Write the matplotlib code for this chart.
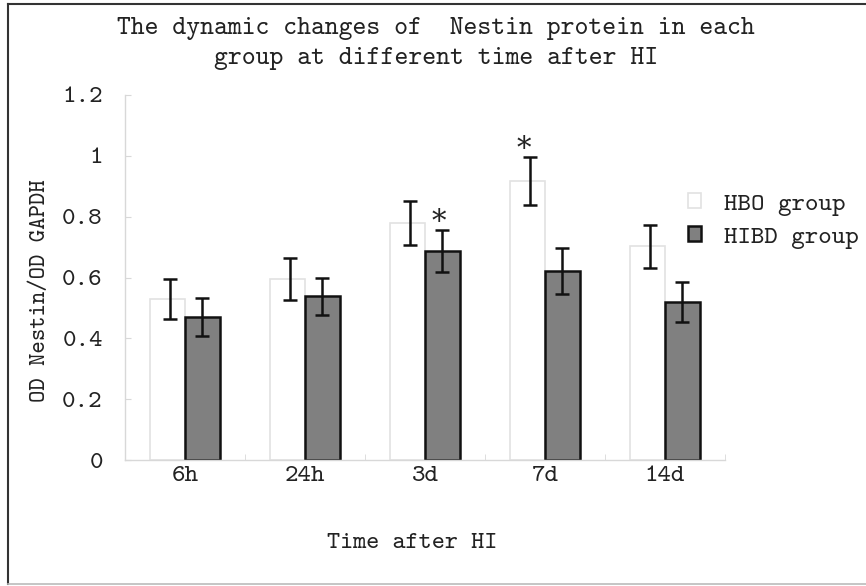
import numpy as np
import matplotlib.pyplot as plt
from matplotlib.lines import Line2D

times = ["6h", "24h", "3d", "7d", "14d"]
hbo = [0.53, 0.595, 0.78, 0.918, 0.702]
hbo_err = [0.065, 0.068, 0.073, 0.079, 0.072]
hibd = [0.47, 0.538, 0.688, 0.622, 0.519]
hibd_err = [0.062, 0.06, 0.069, 0.076, 0.066]
# significance stars: (series, category index)
stars = [("hibd", 2), ("hbo", 3)]

plt.rcParams['font.family'] = ['cmtt10', 'DejaVu Serif']
fs = 18.5

fig = plt.figure(figsize=(8.66, 5.86), dpi=100)
ax = fig.add_axes([125/866, 126/586, 600/866, 365/586])

x = np.arange(len(times))
w = 0.29
ax.bar(x - w/2, hbo, w, color="white", edgecolor="#e2e2e2", linewidth=1.2,
       label="HBO group", zorder=2)
ax.bar(x + w/2, hibd, w, color="#808080", edgecolor="#111111", linewidth=1.8,
       label="HIBD group", zorder=2)
ax.errorbar(x - w/2 + 0.02, hbo, yerr=hbo_err, fmt="none", ecolor="#111111",
            elinewidth=1.8, capsize=5, capthick=1.8, zorder=3)
ax.errorbar(x + w/2, hibd, yerr=hibd_err, fmt="none", ecolor="#111111",
            elinewidth=1.8, capsize=5, capthick=1.8, zorder=3)

for s, i in stars:
    if s == "hbo":
        xs, top = x[i] - w/2, hbo[i] + hbo_err[i]
    else:
        xs, top = x[i] + w/2, hibd[i] + hibd_err[i]
    ax.text(xs - 0.03, top + 0.024, "*", ha="center", va="center", fontsize=21,
            color="#222222", family="DejaVu Serif")

ax.set_xlim(-0.5, 4.5)
ax.set_ylim(0, 1.2)
ax.set_yticks([0, 0.2, 0.4, 0.6, 0.8, 1, 1.2])
ax.set_yticklabels(["0", "0.2", "0.4", "0.6", "0.8", "1", "1.2"])
ax.set_xticks(x)
ax.set_xticklabels(times)
ax.set_xticks(np.arange(-0.5, 4.6, 1), minor=True)
ax.tick_params(axis="x", which="major", length=0, pad=4, labelsize=fs,
               colors="#222222")
ax.tick_params(axis="x", which="minor", direction="in", length=4,
               color="#d8d8d8")
ax.tick_params(axis="y", direction="in", length=4, color="#d8d8d8", pad=16,
               labelsize=fs, labelcolor="#222222")
for sp in ["top", "right"]:
    ax.spines[sp].set_visible(False)
for sp in ["left", "bottom"]:
    ax.spines[sp].set_color("#d8d8d8")
    ax.spines[sp].set_linewidth(1.0)

ax.set_xlabel("Time after HI", fontsize=fs - 0.5, color="#222222")
ax.xaxis.set_label_coords(0.478, -0.2)
ax.set_ylabel("OD Nestin/OD GAPDH", fontsize=17, color="#222222")
ax.yaxis.set_label_coords(-0.123, 0.463)

fig.text(436/866, 1 - 28/586, "The dynamic changes of  Nestin protein in each",
         ha="center", va="center", fontsize=fs + 0.5, color="#222222")
fig.text(436/866, 1 - 58/586, "group at different time after HI",
         ha="center", va="center", fontsize=fs + 0.5, color="#222222")

ax.legend(loc="center left", bbox_to_anchor=(0.90, 0.655), frameon=False,
          fontsize=fs, handlelength=0.5, handleheight=0.5, handletextpad=0.9,
          labelspacing=0.4, labelcolor="#222222")

# outer frame
fig.add_artist(Line2D([8/866, 8/866], [0.003, 1 - 4/586], transform=fig.transFigure,
                      color="#333333", linewidth=1.5))
fig.add_artist(Line2D([8/866, 1], [1 - 4/586, 1 - 4/586], transform=fig.transFigure,
                      color="#333333", linewidth=1.5))
fig.add_artist(Line2D([8/866, 1], [0.003, 0.003], transform=fig.transFigure,
                      color="#bbbbbb", linewidth=1.2))

fig.savefig("out.png", dpi=100)
